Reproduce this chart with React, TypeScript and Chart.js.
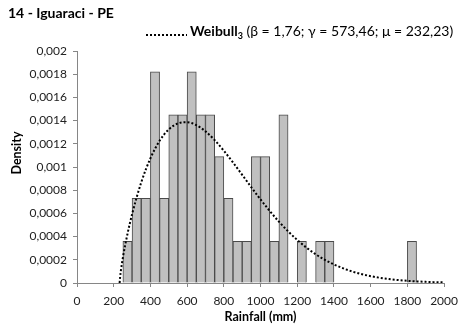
import React, { useEffect, useRef } from "react";
import { Chart, registerables } from "chart.js";

Chart.register(...registerables);

// ---- data ----
const chartTitle = "14 - Iguaraci - PE";
const legendName = "Weibull";
const legendSub = "3";
const legendParams = " (β = 1,76; γ = 573,46; μ = 232,23)";
const xAxisTitle = "Rainfall (mm)";
const yAxisTitle = "Density";

const binWidth = 50;
const binStarts = [250, 300, 350, 400, 450, 500, 550, 600, 650, 700, 750, 800, 850, 900, 950, 1000, 1050, 1100, 1200, 1300, 1350, 1800];
const binDensities = [0.00036, 0.00073, 0.00073, 0.00182, 0.00073, 0.00145, 0.00145, 0.00182, 0.00145, 0.00145, 0.00109, 0.00073, 0.00036, 0.00036, 0.00109, 0.00109, 0.00036, 0.00145, 0.00036, 0.00036, 0.00036, 0.00036];

const curveX = [232.23, 235, 240, 250, 275, 300, 350, 400, 450, 500, 550, 600, 650, 700, 750, 800, 850, 900, 950, 1000, 1100, 1200, 1300, 1400, 1500, 1600, 1700, 1800, 1900, 2000];
const curveY = [0, 0.000053, 0.000117, 0.000219, 0.000423, 0.000592, 0.000867, 0.001075, 0.001226, 0.001324, 0.001376, 0.001386, 0.001361, 0.001307, 0.001232, 0.00114, 0.001039, 0.000932, 0.000825, 0.00072, 0.000529, 0.000371, 0.000248, 0.00016, 0.000099, 0.000059, 0.000034, 0.000019, 0.00001, 0.000005];

const xMin = 0;
const xMax = 2000;
const xStep = 200;
const yMin = 0;
const yMax = 0.002;
const yStep = 0.0002;

const FF = 'Lato, "Liberation Sans", sans-serif';

const textPlugin = {
  id: "textPlugin",
  afterDraw(chart: any) {
    const ctx = chart.ctx as CanvasRenderingContext2D;
    const area = chart.chartArea;
    ctx.save();
    ctx.fillStyle = "#000";
    ctx.textBaseline = "alphabetic";
    ctx.textAlign = "left";
    // title
    ctx.font = `bold 14px ${FF}`;
    ctx.fillText(chartTitle, 8, 18);
    // legend
    ctx.strokeStyle = "#000";
    ctx.lineWidth = 2;
    ctx.setLineDash([2, 2]);
    ctx.beginPath();
    ctx.moveTo(146, 35);
    ctx.lineTo(187, 35);
    ctx.stroke();
    ctx.setLineDash([]);
    let x = 190;
    ctx.font = `bold 14px ${FF}`;
    ctx.fillText(legendName, x, 36);
    x += ctx.measureText(legendName).width;
    ctx.font = `bold 9px ${FF}`;
    ctx.fillText(legendSub, x, 39);
    x += ctx.measureText(legendSub).width;
    ctx.font = `14px ${FF}`;
    ctx.fillText(legendParams, x, 36);
    // axis titles
    ctx.font = `bold 12.5px ${FF}`;
    ctx.textAlign = "center";
    ctx.textBaseline = "middle";
    ctx.fillText(xAxisTitle, (area.left + area.right) / 2, 317);
    ctx.translate(17, 153);
    ctx.rotate(-Math.PI / 2);
    ctx.fillText(yAxisTitle, 0, 0);
    ctx.restore();
  },
};

export default function App() {
  const ref = useRef<HTMLCanvasElement | null>(null);
  useEffect(() => {
    document.body.style.margin = "0";
    const canvas = ref.current;
    if (!canvas) return;
    const chart = new Chart(canvas, {
      data: {
        datasets: [
          {
            type: "line",
            data: curveX.map((x, i) => ({ x, y: curveY[i] })),
            borderColor: "#000",
            borderWidth: 2,
            borderDash: [2, 2],
            pointRadius: 0,
            cubicInterpolationMode: "monotone",
            fill: false,
            order: 0,
          } as any,
          {
            type: "bar",
            data: binStarts.map((s, i) => ({ x: s + binWidth / 2, y: binDensities[i] })),
            backgroundColor: "#c0c0c0",
            borderColor: "#4a4a4a",
            borderWidth: 1,
            barPercentage: 1,
            categoryPercentage: 1,
            order: 1,
          } as any,
        ],
      },
      options: {
        responsive: false,
        animation: false,
        devicePixelRatio: 1,
        layout: { padding: { left: 0, right: 14, top: 51, bottom: 0 } },
        plugins: { legend: { display: false }, tooltip: { enabled: false }, title: { display: false } },
        scales: {
          x: {
            type: "linear",
            min: xMin,
            max: xMax,
            offset: false,
            grid: { drawOnChartArea: false, drawTicks: true, tickLength: 4, color: "#868686", offset: false },
            border: { color: "#868686", width: 1 },
            ticks: {
              stepSize: xStep,
              color: "#222",
              font: { family: FF, size: 12 },
              padding: 7,
              maxRotation: 0,
              autoSkip: false,
              callback: (v: any) => String(v),
            },
            afterFit: (s: any) => { s.height = 43; },
          },
          y: {
            type: "linear",
            min: yMin,
            max: yMax,
            grid: { drawOnChartArea: false, drawTicks: true, tickLength: 4, color: "#868686" },
            border: { color: "#868686", width: 1 },
            ticks: {
              stepSize: yStep,
              color: "#222",
              font: { family: FF, size: 12 },
              padding: 6,
              callback: (v: any) => String(Number(Number(v).toFixed(4))).replace(".", ","),
            },
            afterFit: (s: any) => { s.width = 77; },
          },
        },
      } as any,
      plugins: [textPlugin],
    });
    return () => chart.destroy();
  }, []);
  return (
    <div style={{ width: 465, height: 326 }}>
      <canvas ref={ref} width={465} height={326} style={{ width: 465, height: 326, display: "block" }} />
    </div>
  );
}
